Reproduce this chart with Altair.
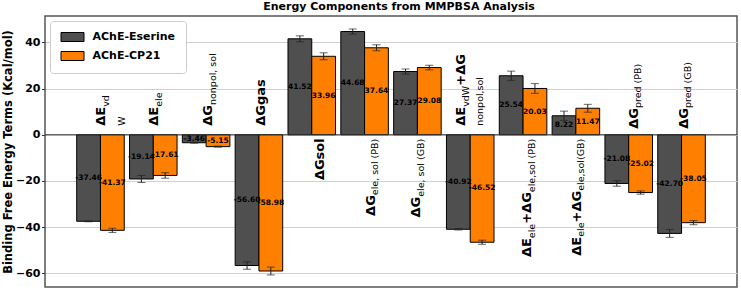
import altair as alt
import pandas as pd

# ---- data -------------------------------------------------------------
categories = [
    "ΔEvdW", "ΔEele", "ΔGnonpol,sol", "ΔGgas", "ΔGsol",
    "ΔGele,sol(PB)", "ΔGele,sol(GB)", "ΔEvdW+ΔGnonpol,sol",
    "ΔEele+ΔGele,sol(PB)", "ΔEele+ΔGele,sol(GB)",
    "ΔGpred(PB)", "ΔGpred(GB)",
]
series = ["AChE-Eserine", "AChE-CP21"]
eserine = [-37.46, -19.14, -3.46, -56.60, 41.52, 44.68, 27.37, -40.92, 25.54, 8.22, -21.08, -42.70]
cp21 = [-41.37, -17.61, -5.15, -58.98, 33.96, 37.64, 29.08, -46.52, 20.03, 11.47, -25.02, -38.05]
eserine_err = [0.2, 1.5, 0.2, 1.6, 1.3, 1.1, 1.1, 0.3, 2.0, 2.0, 1.2, 1.7]
cp21_err = [0.9, 1.2, 0.2, 1.7, 1.5, 1.3, 1.0, 0.9, 2.1, 1.7, 0.7, 0.9]
y_ticks = [-60, -40, -20, 0, 20, 40]

# term labels written inside the plot: lines of (text, is_subscript) pieces
label_lines = [
    [[("ΔE", 0), ("vd", 1)], [("W", 1)]],
    [[("ΔE", 0), ("ele", 1)]],
    [[("ΔG", 0), ("nonpol, sol", 1)]],
    [[("ΔGgas", 0)]],
    [[("ΔGsol", 0)]],
    [[("ΔG", 0), ("ele, sol (PB)", 1)]],
    [[("ΔG", 0), ("ele, sol (GB)", 1)]],
    [[("ΔE", 0), ("vdW", 1), ("+ΔG", 0)], [("nonpol,sol", 1)]],
    [[("ΔE", 0), ("ele", 1), ("+ΔG", 0), ("ele,sol (PB)", 1)]],
    [[("ΔE", 0), ("ele", 1), ("+ΔG", 0), ("ele,sol(GB)", 1)]],
    [[("ΔG", 0), ("pred (PB)", 1)]],
    [[("ΔG", 0), ("pred (GB)", 1)]],
]

# ---- layout / style ---------------------------------------------------
W, H = 692, 271
Y_MIN, Y_MAX = -65.9, 51.4
PX = H / (Y_MAX - Y_MIN)          # pixels per kcal/mol
DARK, ORANGE = "#4f4f4f", "#ff8000"
FONT = "DejaVu Sans"
Y_TITLE = "Binding Free Energy Terms (Kcal/mol)"
MAIN_SIZE, SUB_SIZE, SUB_DROP = 13, 9.5, 3.5
# sideways shift of each label line (px right of the group centre)
line_shift = [[5, 25], [5], [6], [6], [12], [10], [3], [-5, 12.5], [8], [5], [9], [6]]
# gap between the zero line and the label
start_gap = [9, 9, 9, 9, 3.5, 4, 4, 9, 4, 4, 6, 6]

# advance widths (units per 2048 em) for DejaVu Sans Bold / Book
BOLD = {" ": 713, "(": 939, ")": 939, "+": 1716, ",": 778, "Δ": 1585, "E": 1399,
        "G": 1683, "P": 1501, "B": 1563, "W": 2108, "a": 1382, "d": 1466, "e": 1389,
        "g": 1466, "l": 702, "n": 1458, "o": 1407, "p": 1466, "r": 1010, "s": 1219,
        "v": 1335}
REG = {" ": 651, "(": 799, ")": 799, "+": 1716, ",": 651, "Δ": 1401, "E": 1294,
       "G": 1587, "P": 1235, "B": 1405, "W": 2025, "a": 1255, "d": 1300, "e": 1260,
       "g": 1300, "l": 569, "n": 1298, "o": 1253, "p": 1300, "r": 842, "s": 1067,
       "v": 1212}


def text_width(s, size, bold):
    table = BOLD if bold else REG
    return sum(table.get(c, 1300) for c in s) / 2048 * size


# ---- tables -----------------------------------------------------------
bars_df = pd.DataFrame({
    "category": categories * 2,
    "series": [series[0]] * len(categories) + [series[1]] * len(categories),
    "value": eserine + cp21,
    "err": eserine_err + cp21_err,
})
bars_df["lo"] = bars_df["value"] - bars_df["err"]
bars_df["hi"] = bars_df["value"] + bars_df["err"]
bars_df["mid"] = bars_df["value"] / 2
bars_df["label"] = bars_df["value"].map(lambda v: f"{v:.2f}")

piece_rows = []
for i, cat in enumerate(categories):
    above = eserine[i] < 0
    for j, line in enumerate(label_lines[i]):
        pieces = line if above else list(reversed(line))
        pos = start_gap[i] if above else -start_gap[i]
        for text, sub in pieces:
            size = SUB_SIZE if sub else MAIN_SIZE
            w = text_width(text, size, not sub)
            piece_rows.append({
                "category": cat, "text": text, "y": pos / PX,
                "size": size, "bold": not sub,
                "dy": line_shift[i][j] + (SUB_DROP if sub and j == 0 else 0),
                "align": "left" if above else "right",
            })
            pos = pos + w if above else pos - w
pieces_df = pd.DataFrame(piece_rows)

# ---- chart ------------------------------------------------------------
x_enc = alt.X("category:N", axis=None,
              scale=alt.Scale(domain=categories, paddingInner=0.1, paddingOuter=0.6))
xo_enc = alt.XOffset("series:N", scale=alt.Scale(domain=series, paddingInner=0, paddingOuter=0))
y_scale = alt.Scale(domain=[Y_MIN, Y_MAX], nice=False, zero=False)
y_axis = alt.Axis(
    values=y_ticks, grid=True, gridColor="#d0d0d0", gridWidth=1,
    domain=False, tickSize=3.5, tickColor="#333333", tickWidth=1,
    labelFont=FONT, labelFontSize=11, labelFontWeight="bold", labelColor="black",
    labelPadding=1.5, titleFont=FONT, titleFontSize=11.5, titleFontWeight="bold",
    titleColor="black", titlePadding=1.5)


def yq(field):
    return alt.Y(field, type="quantitative", scale=y_scale, axis=y_axis, title=Y_TITLE)


bars = alt.Chart(bars_df).mark_bar(stroke="black", strokeWidth=1).encode(
    x=x_enc, xOffset=xo_enc, y=yq("value"),
    color=alt.Color("series:N", scale=alt.Scale(domain=series, range=[DARK, ORANGE]),
                    legend=alt.Legend(
                        title=None, orient="none", legendX=5, legendY=5,
                        symbolType="M-1,-0.9H3.6V0.9H-1Z", symbolSize=100,
                        symbolStrokeColor="black", symbolStrokeWidth=1, symbolOpacity=1,
                        labelFont=FONT, labelFontSize=11, labelFontWeight="bold",
                        labelColor="black", labelOffset=21, padding=10.5, rowPadding=6,
                        strokeColor="#cccccc", fillColor="white", cornerRadius=3)),
)

zero = alt.Chart(pd.DataFrame({"v": [0]})).mark_rule(color="#333333", strokeWidth=1).encode(
    y=yq("v"))

whisk = alt.Chart(bars_df).mark_rule(color="#222222", strokeWidth=1).encode(
    x=x_enc, xOffset=xo_enc, y=yq("lo"), y2="hi:Q")
cap_lo = alt.Chart(bars_df).mark_tick(color="#222222", thickness=1, size=8).encode(
    x=x_enc, xOffset=xo_enc, y=yq("lo"))
cap_hi = alt.Chart(bars_df).mark_tick(color="#222222", thickness=1, size=8).encode(
    x=x_enc, xOffset=xo_enc, y=yq("hi"))

values = alt.Chart(bars_df).mark_text(
    font=FONT, fontSize=7.5, fontWeight="bold", color="black", baseline="middle"
).encode(x=x_enc, xOffset=xo_enc, y=yq("mid"), text="label:N")

term_layers = []
for (size, bold, dy, align), grp in pieces_df.groupby(["size", "bold", "dy", "align"]):
    term_layers.append(
        alt.Chart(grp).mark_text(
            angle=270, align=align, baseline="alphabetic", dy=float(dy),
            font=FONT, fontSize=float(size), fontWeight="bold" if bold else "normal",
            color="black",
        ).encode(x=x_enc, y=yq("y"), text="text:N")
    )

chart = alt.layer(bars, zero, whisk, cap_lo, cap_hi, values, *term_layers).properties(
    width=W, height=H,
    title=alt.TitleParams("Energy Components from MMPBSA Analysis", font=FONT, fontSize=11,
                          fontWeight="bold", color="black", anchor="middle", dx=8,
                          offset=4),
    padding={"left": 45, "top": 16, "right": 4, "bottom": 6},
    autosize=alt.AutoSizeParams(type="none"),
).configure_view(stroke="#555555", strokeWidth=1.5)

chart.save("out.html", embed_options={"renderer": "svg", "actions": False})
